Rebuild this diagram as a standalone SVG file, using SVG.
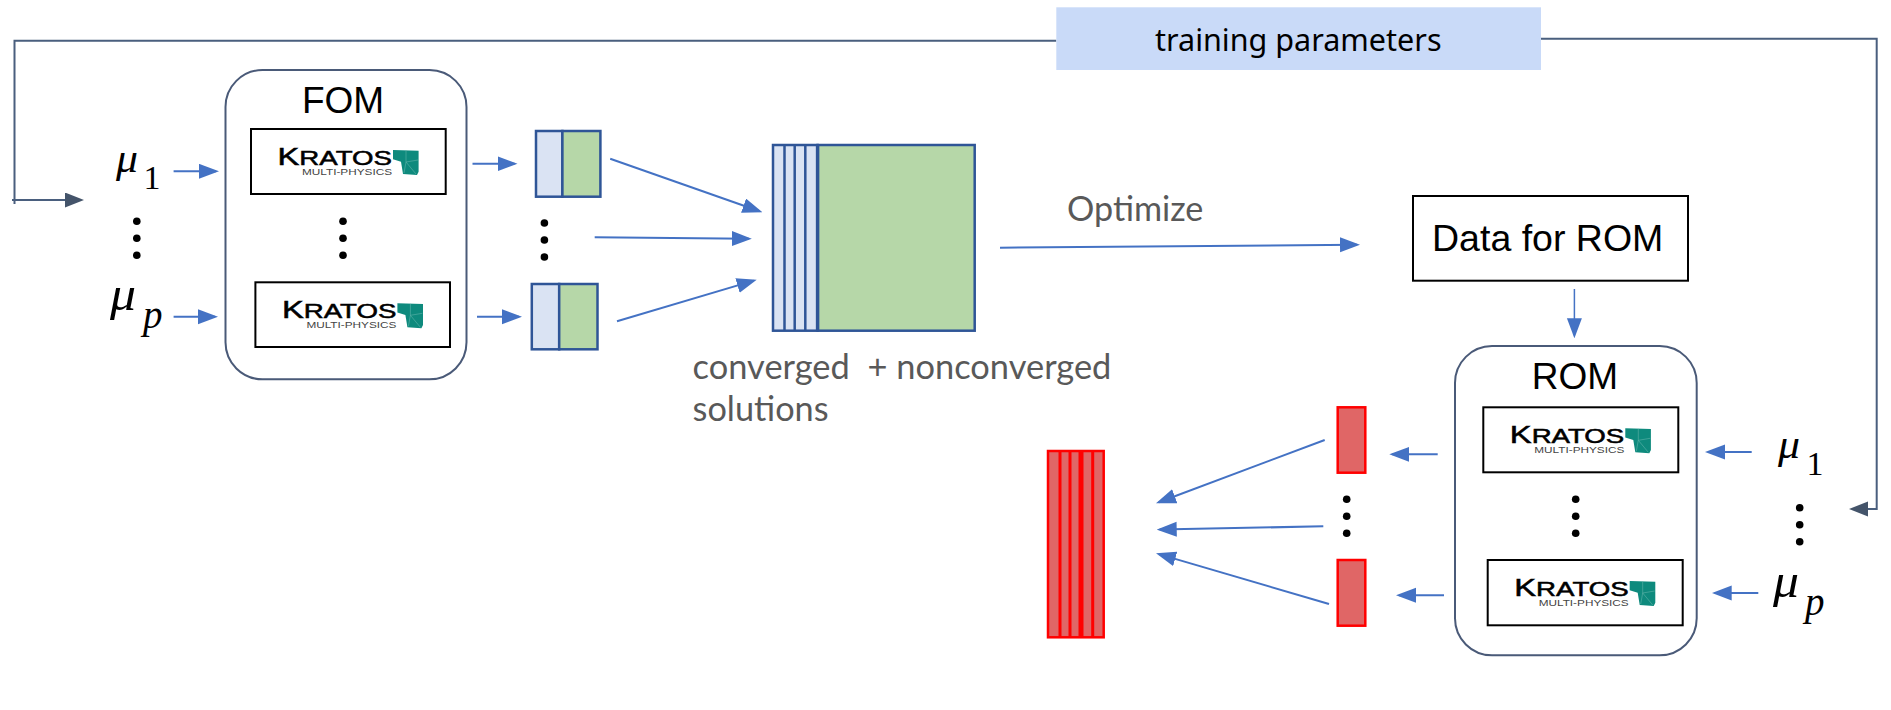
<svg xmlns="http://www.w3.org/2000/svg" width="1891" height="710" viewBox="0 0 1891 710">
<style>
text{white-space:pre}
.conn{fill:none;stroke:#4472c4;stroke-width:2}
.feed{fill:none;stroke:#4a5f7e;stroke-width:2}
.model{fill:#fff;stroke:#4a5a78;stroke-width:2}
.box{fill:#fff;stroke:#000;stroke-width:2}
.blue{fill:#dae3f3;stroke:#2f5597;stroke-width:2.5}
.green{fill:#b6d7a8;stroke:#2f5597;stroke-width:2.5}
.div{fill:none;stroke:#2f5597;stroke-width:2.5}
.red{fill:#e06666;stroke:#ff0000;stroke-width:2.5}
.rdiv{fill:none;stroke:#ff0000;stroke-width:3}
.sans{font-family:"Liberation Sans",Arial,sans-serif;fill:#000}
.lato{font-family:Lato,"Noto Sans",sans-serif;fill:#595959}
.mu{font-family:"Liberation Serif","Times New Roman",serif;font-style:italic;fill:#000}
.num{font-family:"Liberation Serif","Times New Roman",serif;fill:#000}
.kr{font-family:"Liberation Sans",Arial,sans-serif;font-size:19.4px;fill:#000;stroke:#000;stroke-width:.5}
.mp{font-family:"Liberation Sans",Arial,sans-serif;font-size:8.7px;fill:#444}
.teal{fill:#0e8a7d}
.facet{fill:none;stroke:#5fb3a9;stroke-width:.6}
.dot{fill:#000}
</style>
<defs>
<marker id="hb" markerUnits="userSpaceOnUse" markerWidth="20" markerHeight="16" refX="17" refY="7.5" orient="auto"><path d="M0 0L20 7.5L0 15Z" fill="#4472c4"/></marker>
<marker id="hd" markerUnits="userSpaceOnUse" markerWidth="20" markerHeight="16" refX="16" refY="7.5" orient="auto"><path d="M0 0L19 7.5L0 15Z" fill="#44546a"/></marker>
</defs>

<g id="connectors">
<path class="feed" d="M1056.3 40.7H14.5V204"/>
<path class="feed" d="M12 200H81" marker-end="url(#hd)"/>
<path class="feed" d="M1541 38.7H1876.7V509H1852" marker-end="url(#hd)"/>
<path class="conn" d="M173.6 171.3H216" marker-end="url(#hb)"/>
<path class="conn" d="M173.6 316.7H215" marker-end="url(#hb)"/>
<path class="conn" d="M472.5 163.7H514.5" marker-end="url(#hb)"/>
<path class="conn" d="M477 316.7H519" marker-end="url(#hb)"/>
<path class="conn" d="M610.2 158.7L759.6 211.3" marker-end="url(#hb)"/>
<path class="conn" d="M594.7 237.3L748.8 238.7" marker-end="url(#hb)"/>
<path class="conn" d="M617 321.3L753.8 280.6" marker-end="url(#hb)"/>
<path class="conn" d="M1000 247.7L1357 244.7" marker-end="url(#hb)"/>
<path class="conn" stroke-width="1.5" style="stroke-width:1.5" d="M1574.4 289V335.3" marker-end="url(#hb)"/>
<path class="conn" d="M1751.7 452H1708" marker-end="url(#hb)"/>
<path class="conn" d="M1758.3 593H1714.7" marker-end="url(#hb)"/>
<path class="conn" d="M1437.7 454.3H1392.3" marker-end="url(#hb)"/>
<path class="conn" d="M1444 595.3H1399" marker-end="url(#hb)"/>
<path class="conn" d="M1324.7 440L1158.8 502.2" marker-end="url(#hb)"/>
<path class="conn" d="M1323.3 526.3L1159.7 529.6" marker-end="url(#hb)"/>
<path class="conn" d="M1329 604L1158.9 554.1" marker-end="url(#hb)"/>
</g>

<g id="training-parameters">
<rect x="1056.3" y="7.3" width="484.7" height="62.7" fill="#c9daf8"/>
<text x="1155" y="50.7" font-family="Noto Sans, sans-serif" font-size="31" fill="#000" textLength="286.5" lengthAdjust="spacingAndGlyphs">training parameters</text>
</g>

<g id="mu-left">
<text class="mu" x="116" y="172" font-size="42" textLength="22" lengthAdjust="spacingAndGlyphs">μ</text>
<text class="num" x="143.5" y="189" font-size="34">1</text>
<circle class="dot" cx="136.8" cy="221.3" r="3.8"/><circle class="dot" cx="136.8" cy="238.3" r="3.8"/><circle class="dot" cx="136.8" cy="255.3" r="3.8"/>
<text class="mu" x="110" y="310" font-size="48" textLength="26" lengthAdjust="spacingAndGlyphs">μ</text>
<text class="mu" x="143" y="328" font-size="39">p</text>
</g>

<g id="fom">
<rect class="model" x="225.5" y="70" width="241" height="309.3" rx="37" ry="37"/>
<text class="sans" x="343" y="112.7" font-size="37" text-anchor="middle">FOM</text>
<rect class="box" x="251" y="129" width="194.7" height="65"/>
<g>
<text class="kr" x="277.5" y="165" textLength="114.5" lengthAdjust="spacingAndGlyphs"><tspan font-size="23">K</tspan>RATOS</text>
<text class="mp" x="302" y="175" textLength="90" lengthAdjust="spacingAndGlyphs">MULTI-PHYSICS</text>
<path class="teal" d="M393 150L418.6 150.7V171.7L417 175L403 174L401 161.7L393 159.3Z"/>
<path class="facet" d="M406 150.5V162L416 174M406 162L418 160M406 162L404 173"/>
</g>
<circle class="dot" cx="343" cy="221.3" r="3.8"/><circle class="dot" cx="343" cy="238.3" r="3.8"/><circle class="dot" cx="343" cy="255.3" r="3.8"/>
<rect class="box" x="255.4" y="282.3" width="194.6" height="64.7"/>
<g transform="translate(4.4 153.3)">
<text class="kr" x="277.5" y="165" textLength="114.5" lengthAdjust="spacingAndGlyphs"><tspan font-size="23">K</tspan>RATOS</text>
<text class="mp" x="302" y="175" textLength="90" lengthAdjust="spacingAndGlyphs">MULTI-PHYSICS</text>
<path class="teal" d="M393 150L418.6 150.7V171.7L417 175L403 174L401 161.7L393 159.3Z"/>
<path class="facet" d="M406 150.5V162L416 174M406 162L418 160M406 162L404 173"/>
</g>
</g>

<g id="snapshot-1">
<rect class="blue" x="536" y="131" width="26.4" height="65.7"/>
<rect class="green" x="562.4" y="131" width="38" height="65.7"/>
</g>
<g id="snapshot-dots">
<circle class="dot" cx="544.4" cy="223" r="3.8"/><circle class="dot" cx="544.4" cy="240" r="3.8"/><circle class="dot" cx="544.4" cy="257" r="3.8"/>
</g>
<g id="snapshot-p">
<rect class="blue" x="531.8" y="284" width="27.4" height="65.3"/>
<rect class="green" x="559.2" y="284" width="38.3" height="65.3"/>
</g>

<g id="snapshot-matrix">
<rect class="blue" x="773" y="145" width="44.6" height="185.7"/>
<rect class="green" x="817.6" y="145" width="157.1" height="185.7"/>
<path class="div" d="M784.5 145V330.7M794.7 145V330.7M805.3 145V330.7"/>
<path class="div" style="stroke-width:3.5" d="M817.6 145V330.7"/>
</g>

<g id="matrix-label">
<text class="lato" x="692.6" y="379.3" font-size="35" textLength="418.8" lengthAdjust="spacingAndGlyphs">converged  + nonconverged</text>
<text class="lato" x="692.6" y="421" font-size="35" textLength="136" lengthAdjust="spacingAndGlyphs">solutions</text>
</g>

<g id="optimize-label">
<text class="lato" x="1067" y="220.7" font-size="34" textLength="136.4" lengthAdjust="spacingAndGlyphs">Optimize</text>
</g>

<g id="data-for-rom">
<rect class="box" x="1413" y="196" width="275" height="84.7"/>
<text class="sans" x="1547.7" y="250.7" font-size="37.5" text-anchor="middle">Data for ROM</text>
</g>

<g id="rom">
<rect class="model" x="1455" y="346" width="241.7" height="309.3" rx="37" ry="37"/>
<text class="sans" x="1575" y="388.7" font-size="37" text-anchor="middle">ROM</text>
<rect class="box" x="1483.3" y="407.3" width="195" height="65"/>
<g transform="translate(1232.3 278.3)">
<text class="kr" x="277.5" y="165" textLength="114.5" lengthAdjust="spacingAndGlyphs"><tspan font-size="23">K</tspan>RATOS</text>
<text class="mp" x="302" y="175" textLength="90" lengthAdjust="spacingAndGlyphs">MULTI-PHYSICS</text>
<path class="teal" d="M393 150L418.6 150.7V171.7L417 175L403 174L401 161.7L393 159.3Z"/>
<path class="facet" d="M406 150.5V162L416 174M406 162L418 160M406 162L404 173"/>
</g>
<circle class="dot" cx="1575.7" cy="499.3" r="3.8"/><circle class="dot" cx="1575.7" cy="516.3" r="3.8"/><circle class="dot" cx="1575.7" cy="533.3" r="3.8"/>
<rect class="box" x="1487.7" y="560" width="195" height="65.3"/>
<g transform="translate(1236.7 431)">
<text class="kr" x="277.5" y="165" textLength="114.5" lengthAdjust="spacingAndGlyphs"><tspan font-size="23">K</tspan>RATOS</text>
<text class="mp" x="302" y="175" textLength="90" lengthAdjust="spacingAndGlyphs">MULTI-PHYSICS</text>
<path class="teal" d="M393 150L418.6 150.7V171.7L417 175L403 174L401 161.7L393 159.3Z"/>
<path class="facet" d="M406 150.5V162L416 174M406 162L418 160M406 162L404 173"/>
</g>
</g>

<g id="mu-right">
<text class="mu" x="1778" y="458" font-size="42" textLength="22" lengthAdjust="spacingAndGlyphs">μ</text>
<text class="num" x="1806.5" y="475" font-size="34">1</text>
<circle class="dot" cx="1799.7" cy="507.7" r="3.8"/><circle class="dot" cx="1799.7" cy="524.7" r="3.8"/><circle class="dot" cx="1799.7" cy="541.7" r="3.8"/>
<text class="mu" x="1773" y="596.7" font-size="48" textLength="26" lengthAdjust="spacingAndGlyphs">μ</text>
<text class="mu" x="1805" y="615" font-size="39">p</text>
</g>

<g id="rom-output-1"><rect class="red" x="1337.7" y="407.3" width="27.6" height="65.4"/></g>
<g id="rom-output-dots">
<circle class="dot" cx="1346.7" cy="499.3" r="3.8"/><circle class="dot" cx="1346.7" cy="516.3" r="3.8"/><circle class="dot" cx="1346.7" cy="533.3" r="3.8"/>
</g>
<g id="rom-output-p"><rect class="red" x="1337.7" y="560" width="27.6" height="65.7"/></g>

<g id="rom-matrix">
<rect class="red" x="1048" y="451" width="55.7" height="186.3"/>
<path class="rdiv" d="M1060 451V637.3M1070 451V637.3M1092.7 451V637.3"/>
<path class="rdiv" style="stroke-width:5" d="M1081 451V637.3"/>
</g>
</svg>
